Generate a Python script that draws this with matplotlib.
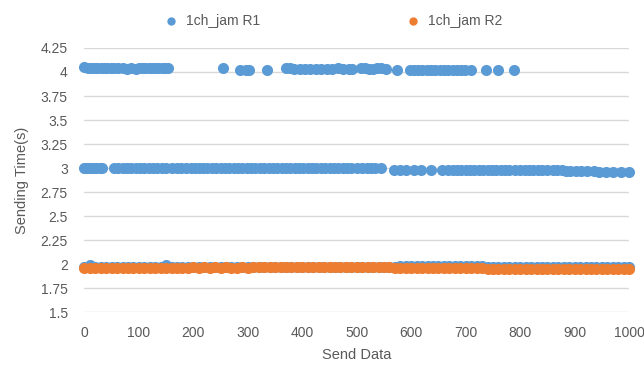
import matplotlib.pyplot as plt
from matplotlib.ticker import FuncFormatter

# 1ch_jam R1 -- points around 4 s
r1_high_x = [0, 6, 12, 18, 24, 30, 36, 42, 48, 55, 62, 70, 78, 86, 95, 100, 106, 112,
             118, 124, 130, 136, 142, 148, 153, 254, 285, 296, 302, 335, 370, 378, 385,
             395, 405, 415, 425, 435, 445, 455, 465, 475, 485, 492, 507, 515, 522, 530,
             538, 545, 553, 574, 598, 605, 612, 620, 628, 636, 644, 652, 660, 668, 676,
             684, 692, 698, 709, 737, 759, 789]
r1_high_y = [4.05, 4.04, 4.04, 4.04, 4.04, 4.04, 4.04, 4.04, 4.04, 4.04, 4.04, 4.04, 4.03,
             4.04, 4.03, 4.04, 4.04, 4.04, 4.04, 4.04, 4.04, 4.04, 4.04, 4.04, 4.04, 4.04,
             4.02, 4.02, 4.02, 4.02, 4.04, 4.04, 4.03, 4.03, 4.03, 4.03, 4.03, 4.03, 4.03,
             4.03, 4.04, 4.03, 4.03, 4.03, 4.04, 4.04, 4.03, 4.03, 4.04, 4.04, 4.03, 4.02,
             4.02, 4.02, 4.02, 4.02, 4.02, 4.02, 4.02, 4.02, 4.02, 4.02, 4.02, 4.02, 4.02,
             4.02, 4.02, 4.02, 4.02, 4.02]

# 1ch_jam R1 -- points around 3 s
r1_mid_x = [0, 5, 10, 16, 22, 28, 32, 55, 62, 70, 78, 86, 95, 103, 110, 118, 126, 134, 142,
            150, 160, 170, 178, 186, 195, 203, 210, 218, 226, 234, 242, 250, 258, 266, 274,
            282, 290, 298, 306, 314, 322, 330, 338, 346, 354, 362, 370, 378, 386, 394, 402,
            410, 418, 426, 434, 442, 450, 458, 466, 474, 482, 490, 500, 510, 518, 526, 534,
            545, 568, 580, 590, 605, 618, 637, 656, 668, 676, 684, 692, 700, 708, 716, 724,
            732, 740, 748, 756, 764, 772, 780, 790, 800, 808, 816, 824, 832, 840, 850, 860,
            868, 876, 884, 892, 902, 912, 922, 935, 945, 958, 970, 985, 1000]
r1_mid_y = [3.0, 3.0, 3.0, 3.0, 3.0, 3.0, 3.0, 3.0, 3.0, 3.0, 3.0, 3.0, 3.0, 3.0, 3.0, 3.0,
            3.0, 3.0, 3.0, 3.0, 3.0, 3.0, 3.0, 3.0, 3.0, 3.0, 3.0, 3.0, 3.0, 3.0, 3.0, 3.0,
            3.0, 3.0, 3.0, 3.0, 3.0, 3.0, 3.0, 3.0, 3.0, 3.0, 3.0, 3.0, 3.0, 3.0, 3.0, 3.0,
            3.0, 3.0, 3.0, 3.0, 3.0, 3.0, 3.0, 3.0, 3.0, 3.0, 3.0, 3.0, 3.0, 3.0, 3.0, 3.0,
            3.0, 3.0, 3.0, 3.0, 2.98, 2.98, 2.98, 2.98, 2.98, 2.98, 2.98, 2.98, 2.98, 2.98,
            2.98, 2.98, 2.98, 2.98, 2.98, 2.98, 2.98, 2.98, 2.98, 2.98, 2.98, 2.98, 2.98,
            2.98, 2.98, 2.98, 2.98, 2.98, 2.98, 2.98, 2.98, 2.98, 2.98, 2.97, 2.97, 2.97,
            2.97, 2.97, 2.97, 2.96, 2.96, 2.96, 2.96, 2.96]

# 1ch_jam R1 -- points around 2 s (mostly hidden under R2)
r1_low_x = [0, 10, 20, 30, 40, 50, 60, 70, 80, 90, 100, 110, 120, 130, 140, 150, 160, 170,
            180, 190, 200, 210, 220, 230, 240, 250, 260, 270, 280, 290, 300, 310, 320, 330,
            340, 350, 360, 370, 380, 390, 400, 410, 420, 430, 440, 450, 460, 470, 480, 490,
            500, 510, 520, 530, 540, 550, 560, 570, 580, 590, 600, 610, 620, 630, 640, 650,
            660, 670, 680, 690, 700, 710, 720, 730, 740, 750, 760, 770, 780, 790, 800, 810,
            820, 830, 840, 850, 860, 870, 880, 890, 900, 910, 920, 930, 940, 950, 960, 970,
            980, 990, 1000]
r1_low_y = [1.97, 1.99, 1.97, 1.97, 1.97, 1.97, 1.97, 1.97, 1.97, 1.97, 1.97, 1.97, 1.97,
            1.97, 1.97, 1.99, 1.97, 1.97, 1.97, 1.97, 1.97, 1.97, 1.97, 1.97, 1.97, 1.97,
            1.97, 1.97, 1.97, 1.97, 1.97, 1.97, 1.97, 1.97, 1.97, 1.97, 1.97, 1.97, 1.97,
            1.97, 1.97, 1.97, 1.97, 1.97, 1.97, 1.97, 1.97, 1.97, 1.97, 1.97, 1.97, 1.97,
            1.97, 1.97, 1.97, 1.97, 1.97, 1.97, 1.985, 1.98, 1.98, 1.985, 1.98, 1.98, 1.98,
            1.98, 1.985, 1.98, 1.98, 1.98, 1.98, 1.98, 1.98, 1.98, 1.97, 1.97, 1.97, 1.97,
            1.97, 1.97, 1.97, 1.97, 1.97, 1.97, 1.97, 1.97, 1.97, 1.97, 1.97, 1.97, 1.97,
            1.97, 1.97, 1.97, 1.97, 1.97, 1.97, 1.97, 1.97, 1.97, 1.97]

# 1ch_jam R2 -- dense band just below 2 s
r2_x = [0, 10, 20, 30, 40, 50, 60, 70, 80, 90, 100, 110, 120, 130, 140, 150, 160, 170,
        180, 190, 200, 210, 220, 230, 240, 250, 260, 270, 280, 290, 300, 310, 320, 330,
        340, 350, 360, 370, 380, 390, 400, 410, 420, 430, 440, 450, 460, 470, 480, 490,
        500, 510, 520, 530, 540, 550, 560, 570, 580, 590, 600, 610, 620, 630, 640, 650,
        660, 670, 680, 690, 700, 710, 720, 730, 740, 750, 760, 770, 780, 790, 800, 810,
        820, 830, 840, 850, 860, 870, 880, 890, 900, 910, 920, 930, 940, 950, 960, 970,
        980, 990, 1000]
r2_y = [1.96, 1.96, 1.96, 1.96, 1.96, 1.96, 1.96, 1.96, 1.96, 1.96, 1.96, 1.96, 1.96, 1.96,
        1.96, 1.96, 1.96, 1.96, 1.96, 1.96, 1.97, 1.96, 1.97, 1.96, 1.97, 1.96, 1.97, 1.96,
        1.96, 1.97, 1.96, 1.97, 1.97, 1.97, 1.97, 1.97, 1.97, 1.97, 1.97, 1.97, 1.97, 1.97,
        1.97, 1.97, 1.97, 1.97, 1.97, 1.97, 1.97, 1.97, 1.97, 1.97, 1.97, 1.97, 1.97, 1.97,
        1.97, 1.96, 1.96, 1.96, 1.96, 1.96, 1.96, 1.96, 1.96, 1.96, 1.96, 1.96, 1.96, 1.96,
        1.96, 1.96, 1.96, 1.96, 1.95, 1.95, 1.95, 1.95, 1.95, 1.95, 1.95, 1.95, 1.95, 1.95,
        1.95, 1.95, 1.95, 1.95, 1.95, 1.95, 1.95, 1.95, 1.95, 1.95, 1.95, 1.95, 1.95, 1.95,
        1.95, 1.95, 1.95]

r1_x = r1_high_x + r1_mid_x + r1_low_x
r1_y = r1_high_y + r1_mid_y + r1_low_y

blue = '#5B9BD5'
orange = '#ED7D31'
text_color = '#595959'

plt.rcParams['font.family'] = ['Liberation Sans', 'DejaVu Sans']

fig = plt.figure(figsize=(6.44, 3.69), dpi=100)
ax = fig.add_axes([0.131, 0.154, 0.846, 0.716])

ax.scatter(r1_x, r1_y, s=64, color=blue, label='1ch_jam R1', clip_on=False, zorder=3,
           linewidths=0)
ax.scatter(r2_x, r2_y, s=64, color=orange, label='1ch_jam R2', clip_on=False, zorder=4,
           linewidths=0)

ax.set_xlim(0, 1000)
ax.set_ylim(1.5, 4.25)
ax.set_xticks(range(0, 1001, 100))
ax.set_yticks([1.5, 1.75, 2, 2.25, 2.5, 2.75, 3, 3.25, 3.5, 3.75, 4, 4.25])
ax.yaxis.set_major_formatter(FuncFormatter(lambda v, p: '{:g}'.format(v)))
ax.grid(axis='y', color='#D9D9D9', linewidth=1)
ax.set_axisbelow(True)
for s in ax.spines.values():
    s.set_visible(False)
ax.tick_params(length=0, labelsize=10, colors=text_color)
ax.tick_params(axis='y', pad=12)
ax.tick_params(axis='x', pad=10)

ax.set_xlabel('Send Data', fontsize=10.5, color=text_color, labelpad=6)
ax.set_ylabel('Sending Time(s)', fontsize=10.5, color=text_color, labelpad=8)

ax.legend(loc='lower center', bbox_to_anchor=(0.45, 1.03), ncol=2, frameon=False,
          fontsize=10, labelcolor=text_color, columnspacing=10, handletextpad=0.1,
          markerscale=0.75)

plt.savefig('out.png', dpi=100)
